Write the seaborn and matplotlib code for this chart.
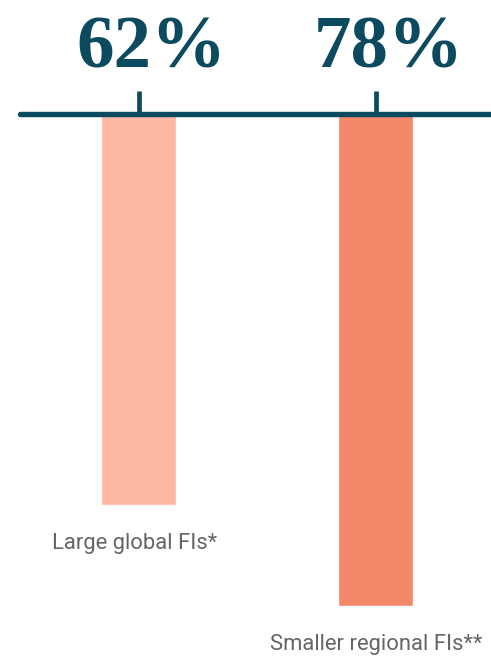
import matplotlib
matplotlib.use("Agg")
import matplotlib.pyplot as plt
import seaborn as sns
import pandas as pd

categories = ["Large global FIs*", "Smaller regional FIs**"]
values = [62, 78]
value_labels = ["62%", "78%"]
bar_colors = ["#FEB7A2", "#F3886A"]

DARK = "#0C4A5F"
GRAY = "#666666"

sns.set_theme(style="white")
plt.rcParams['font.family'] = ['Roboto', 'DejaVu Sans']

W, H = 491, 657
fig = plt.figure(figsize=(W / 100, H / 100), dpi=100)
ax = fig.add_axes([0, 0, 1, 1])

df = pd.DataFrame({"category": categories, "value": values})
sns.barplot(data=df, x="category", y="value", hue="category",
            palette=bar_colors, width=0.316, legend=False, ax=ax,
            saturation=1)

# pixel-to-data mapping
px_per_x = 237.0
x0_px = 138.5
px_per_y = 391.5 / 62
y0_px = 113.5
ax.set_xlim(-x0_px / px_per_x, (W - x0_px) / px_per_x)
ax.set_ylim((H - y0_px) / px_per_y, -y0_px / px_per_y)

for s in ax.spines.values():
    s.set_visible(False)
ax.set_xticks([])
ax.set_yticks([])
ax.set_xlabel("")
ax.set_ylabel("")

# axis line and ticks
ax.axhline(0, xmin=20 / W, xmax=1, color=DARK, lw=3.9, zorder=3)
tick_len = 23 / px_per_y
ax.vlines(range(len(categories)), 0, -tick_len, color=DARK, lw=3.4, zorder=3)

for i, (cat, v, lab) in enumerate(zip(categories, values, value_labels)):
    ax.text(i + 13 / px_per_x, -46.5 / px_per_y, lab, ha="center", va="baseline",
            fontsize=54, fontweight="bold", color=DARK,
            family=["Liberation Serif", "DejaVu Serif"])
    ax.text(i - 4 / px_per_x + (5 / px_per_x) * i, v + 43.5 / px_per_y, cat,
            ha="center", va="baseline", fontsize=15.8, color=GRAY)

fig.savefig("out.png", dpi=100)
